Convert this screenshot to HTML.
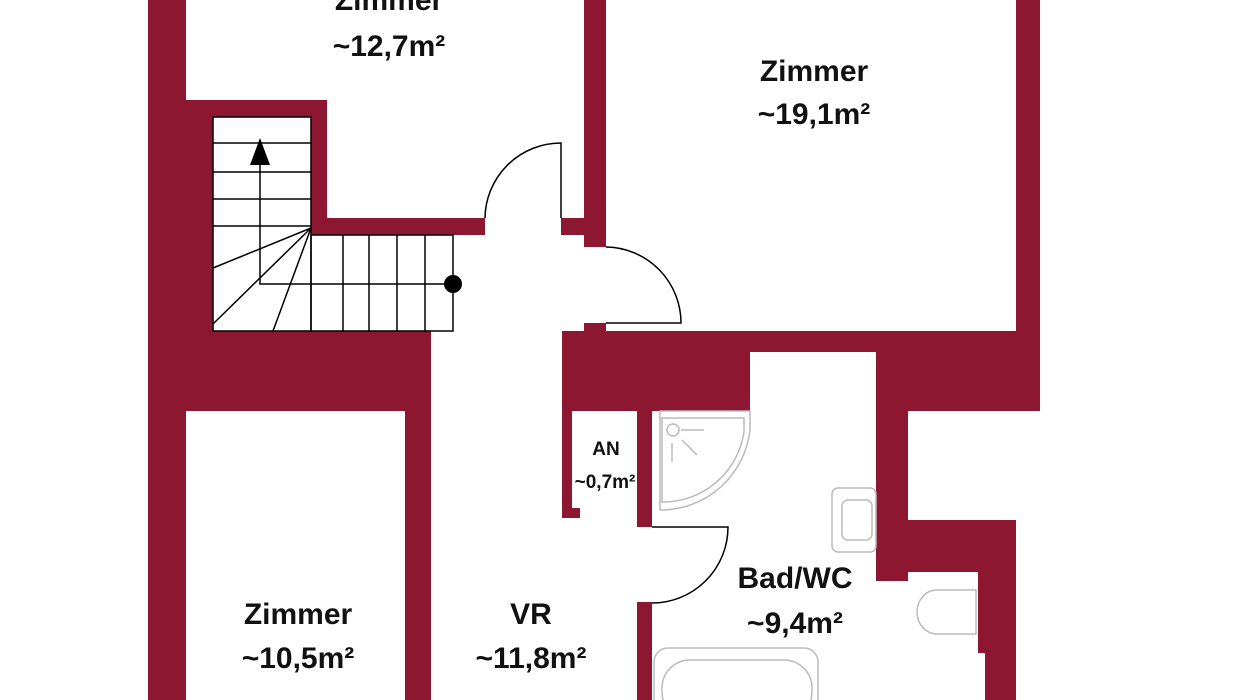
<!DOCTYPE html>
<html><head><meta charset="utf-8"><style>
html,body{margin:0;padding:0;background:#fff;}
svg{display:block;}
text{font-family:"Liberation Sans",sans-serif;font-weight:bold;fill:#111;text-anchor:middle;}
</style></head><body>
<svg width="1236" height="700" viewBox="0 0 1236 700" xmlns="http://www.w3.org/2000/svg">
<g fill="#8d1730">
<rect x="148" y="0" width="38" height="700"/>
<rect x="148" y="100" width="65" height="231"/>
<rect x="186" y="100" width="141" height="17"/>
<rect x="311" y="100" width="16" height="135"/>
<rect x="311" y="218" width="174" height="17"/>
<rect x="561" y="218" width="23" height="17"/>
<rect x="584" y="0" width="22" height="247"/>
<rect x="148" y="331" width="283" height="80"/>
<rect x="405" y="331" width="26" height="369"/>
<rect x="584" y="323" width="22" height="10"/>
<rect x="562" y="331" width="188" height="80"/>
<rect x="562" y="331" width="478" height="21"/>
<rect x="876" y="331" width="164" height="80"/>
<rect x="1016" y="0" width="24" height="340"/>
<rect x="876" y="352" width="32" height="229"/>
<rect x="876" y="520" width="140" height="52"/>
<rect x="978" y="520" width="38" height="133"/>
<rect x="985" y="640" width="31" height="60"/>
<rect x="562" y="405" width="10" height="113"/>
<rect x="562" y="508" width="18" height="10"/>
<rect x="637" y="405" width="15" height="122"/>
<rect x="637" y="602" width="15" height="98"/>
</g>
<g stroke="#000" stroke-width="1.5" fill="none">
<rect x="213" y="117" width="98" height="214"/>
<rect x="311" y="235" width="142" height="96"/>
<line x1="213" y1="143" x2="311" y2="143"/>
<line x1="213" y1="172" x2="311" y2="172"/>
<line x1="213" y1="199" x2="311" y2="199"/>
<line x1="213" y1="226" x2="311" y2="226"/>
<line x1="343" y1="235" x2="343" y2="331"/>
<line x1="369" y1="235" x2="369" y2="331"/>
<line x1="397" y1="235" x2="397" y2="331"/>
<line x1="425" y1="235" x2="425" y2="331"/>
<line x1="311" y1="228" x2="213" y2="268"/>
<line x1="311" y1="228" x2="213" y2="324"/>
<line x1="311" y1="228" x2="273" y2="331"/>
<polyline points="260,160 260,284 453,284"/>
<path d="M561 218 L561 143 A76 76 0 0 0 485 218"/>
<path d="M606 247 A76 76 0 0 1 681 323 L606 323"/>
<path d="M652 527 L728 527 A76 76 0 0 1 652 603"/>
</g>
<polygon points="260,138 250,165 270,165" fill="#000"/>
<circle cx="453" cy="284" r="9" fill="#000"/>
<g stroke="#bbb" stroke-width="1.5" fill="none">
<path d="M660 411 L750 411 L750 430 A90 90 0 0 1 660 510 Z"/>
<path d="M662 418 L744 418 L744 432 A82 82 0 0 1 662 502 Z"/>
<circle cx="673" cy="430" r="6"/>
<line x1="681" y1="430" x2="704" y2="430"/>
<line x1="672" y1="443" x2="672" y2="462"/>
<line x1="682" y1="440" x2="697" y2="455"/>
<rect x="832" y="488" width="44" height="64" rx="6"/>
<rect x="842" y="500" width="30" height="40" rx="6"/>
<path d="M976 590 L937 590 A20 22 0 0 0 937 634 L976 634 Z"/>
<rect x="654" y="648" width="164" height="70" rx="14"/>
<rect x="662" y="660" width="150" height="60" rx="28"/>
</g>
<g font-size="30">
<text x="389" y="10">Zimmer</text>
<text x="389" y="56">~12,7m²</text>
<text x="814" y="81">Zimmer</text>
<text x="814" y="124">~19,1m²</text>
<text x="298" y="624">Zimmer</text>
<text x="298" y="668">~10,5m²</text>
<text x="531" y="624">VR</text>
<text x="531" y="668">~11,8m²</text>
<text x="795" y="588">Bad/WC</text>
<text x="795" y="633">~9,4m²</text>
</g>
<text x="606" y="455" font-size="19">AN</text>
<text x="605" y="488" font-size="19">~0,7m²</text>
</svg>
</body></html>
